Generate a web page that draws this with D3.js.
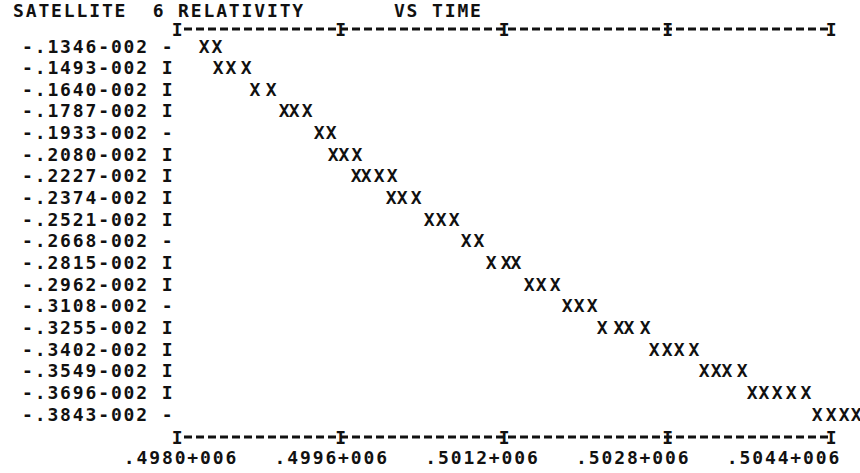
<!DOCTYPE html>
<html><head><meta charset="utf-8">
<script src="https://cdn.jsdelivr.net/npm/d3@7/dist/d3.min.js"></script>
<style>
html,body{margin:0;padding:0;background:#fff;}
text{font-family:"DejaVu Sans Mono",monospace;font-weight:bold;fill:#111;white-space:pre;}
</style></head>
<body><svg id="c" width="860" height="473"></svg>
<script>
// ---- data ----
const titleText = "SATELLITE  6 RELATIVITY       VS TIME";
const rowValues = [-0.001346,-0.001493,-0.001640,-0.001787,-0.001933,-0.002080,-0.002227,-0.002374,-0.002521,-0.002668,-0.002815,-0.002962,-0.003108,-0.003255,-0.003402,-0.003549,-0.003696,-0.003843];
const rowLabels = ["-.1346-002","-.1493-002","-.1640-002","-.1787-002","-.1933-002","-.2080-002","-.2227-002","-.2374-002","-.2521-002","-.2668-002","-.2815-002","-.2962-002","-.3108-002","-.3255-002","-.3402-002","-.3549-002","-.3696-002","-.3843-002"];
const rowMarks = ["-","I","I","I","-","I","I","I","I","-","I","I","-","I","I","I","I","-"];
const pointTimes = [
  [498264,498391],
  [498401,498528,498675],
  [498763,498920],
  [499047,499145,499272],
  [499390,499507],
  [499527,499634,499761],
  [499752,499850,499977,500104],
  [500094,500202,500339],
  [500466,500584,500711],
  [500828,500955],
  [501073,501220,501317],
  [501445,501562,501699],
  [501817,501934,502061],
  [502159,502325,502423,502580],
  [502668,502795,502913,503059],
  [503157,503275,503382,503529],
  [503627,503744,503872,504009,504155],
  [504263,504400,504527,504645]
];
const xTicks = [498000,499600,501200,502800,504400];
const xTickLabels = [".4980+006",".4996+006",".5012+006",".5028+006",".5044+006"];

// ---- drawing ----
const svg = d3.select("#c");
const fs = 18, ls = 1.86;
const x = d3.scaleLinear().domain([498000,504400]).range([178,832]);
const y = d3.scaleLinear().domain([rowValues[0], rowValues[rowValues.length-1]]).range([46,414]);
const labelX = d3.scaleLinear().domain([498000,504400]).range([181,784]);

function txt(g){ return g.attr("font-size",fs).attr("letter-spacing",ls).attr("dominant-baseline","central"); }

svg.append("text").attr("x",13).attr("y",10).text(titleText).call(txt);

// horizontal axes (top and bottom)
[29,437].forEach(yy=>{
  svg.append("line").attr("x1",x.range()[0]+6).attr("x2",x.range()[1]-4)
    .attr("y1",yy).attr("y2",yy).attr("stroke","#111").attr("stroke-width",3).attr("stroke-dasharray","8,4");
  svg.selectAll(null).data(xTicks).enter().append("text")
    .attr("x",d=>x(d)).attr("y",yy).attr("text-anchor","middle").text("I").call(txt);
});
svg.selectAll(null).data(xTicks).enter().append("text")
  .attr("x",d=>labelX(d)).attr("y",457).attr("text-anchor","middle")
  .text((d,i)=>xTickLabels[i]).call(txt);

// y labels and marks
svg.selectAll(null).data(rowValues).enter().append("text")
  .attr("x",22).attr("y",d=>y(d)).text((d,i)=>rowLabels[i]).call(txt);
svg.selectAll(null).data(rowValues).enter().append("text")
  .attr("x",168).attr("y",d=>y(d)).attr("text-anchor","middle").text((d,i)=>rowMarks[i]).call(txt);

// points
const pts = [];
pointTimes.forEach((ts,i)=>ts.forEach(t=>pts.push({t:t,v:rowValues[i]})));
svg.selectAll(null).data(pts).enter().append("text")
  .attr("x",d=>x(d.t)).attr("y",d=>y(d.v)).attr("text-anchor","middle").text("X").call(txt);
</script></body></html>
